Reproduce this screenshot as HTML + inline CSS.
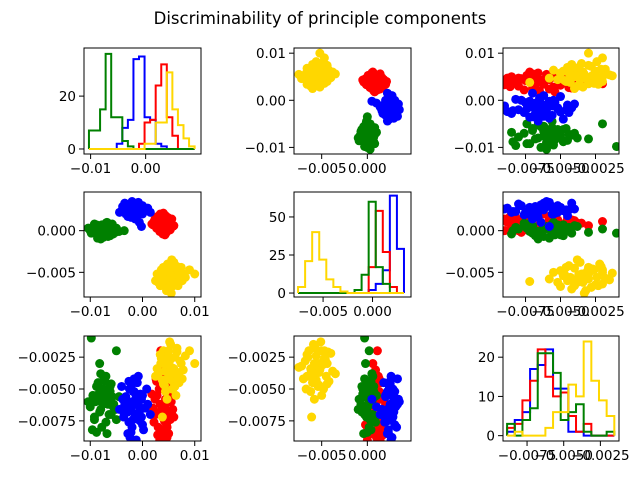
<!DOCTYPE html>
<html><head><meta charset="utf-8"><style>
html,body{margin:0;padding:0;background:#fff;}
svg text{font-family:"DejaVu Sans","Liberation Sans",sans-serif;}
</style></head><body>
<svg id="fig" width="640" height="480" xmlns="http://www.w3.org/2000/svg">
<rect width="640" height="480" fill="#fff"/>
<text x="320" y="24" font-size="16.5" text-anchor="middle">Discriminability of principle components</text>
</svg>
<script>
// Scatter points, units of 1e-4: [component1, component2, component3]
const UNIT = 1e-4;
const yellowPts = [[55,-55,-33],[40,-50,-20],[70,-60,-45],[50,-45,-40],[62,-65,-25],[35,-58,-30],[78,-52,-35],[45,-68,-28],[58,-48,-50],[48,-40,-22],[66,-57,-18],[30,-62,-38],[52,-70,-42],[74,-44,-30],[42,-53,-47],[60,-38,-36],[36,-47,-26],[68,-66,-40],[54,-59,-15],[44,-62,-52],[82,-56,-24],[28,-52,-34],[58,-42,-44],[50,-64,-20],[64,-50,-55],[38,-56,-43],[72,-48,-28],[46,-72,-32],[56,-35,-38],[62,-54,-48],[34,-66,-23],[100,-52,-30],[52,-51,-13],[47,-58,-58],[60,-62,-34],[40,-44,-46],[76,-60,-42],[53,-46,-27],[43,-54,-36],[66,-43,-21],[25,-60,-40],[57,-67,-50],[49,-49,-31],[70,-53,-37],[38,-61,-72],[90,-47,-20],[55,-75,-33]];
const redPts = [[38,8,-62],[30,12,-80],[45,4,-50],[25,6,-70],[50,10,-85],[35,15,-45],[42,2,-75],[55,8,-60],[28,10,-55],[48,16,-68],[33,0,-90],[40,12,-40],[20,7,-65],[46,-2,-78],[52,13,-52],[36,4,-85],[44,18,-72],[31,9,-35],[58,5,-66],[24,14,-58],[39,-4,-48],[47,10,-88],[34,20,-62],[53,1,-74],[27,3,-44],[41,16,-82],[37,6,-30],[49,7,-56],[22,11,-76],[43,-5,-64],[56,14,-70],[32,2,-50],[45,9,-38],[29,17,-86],[51,3,-60],[35,11,-20],[60,6,-72],[18,8,-54],[40,21,-66],[47,0,-80],[26,13,-42],[44,5,-58],[36,14,-90],[54,10,-46],[33,-1,-68]];
const bluePts = [[-15,25,-62],[-25,28,-50],[-5,22,-75],[-30,30,-60],[0,20,-55],[-20,32,-80],[-10,18,-45],[-35,26,-70],[5,24,-65],[-18,30,-52],[-28,22,-85],[-8,34,-58],[-40,24,-48],[-2,28,-72],[-22,16,-66],[-12,26,-90],[-32,20,-56],[10,27,-62],[-16,33,-42],[-26,19,-76],[-6,29,-68],[-38,29,-58],[2,23,-82],[-20,25,-46],[-14,14,-70],[-30,31,-64],[-4,21,-54],[-24,27,-88],[-10,31,-60],[-44,22,-66],[8,25,-50],[-18,20,-74],[-34,33,-62],[-8,26,-40],[-22,23,-84],[-12,29,-56],[-28,17,-68],[0,30,-78],[-16,22,-52],[-36,27,-72],[-6,10,-64],[-20,35,-60],[15,22,-70],[-26,25,-44],[-2,5,-58]];
const greenPts = [[-72,0,-57],[-85,3,-45],[-60,-3,-70],[-90,5,-60],[-65,-5,-50],[-78,2,-80],[-55,1,-62],[-95,-2,-55],[-70,6,-40],[-82,-6,-68],[-62,4,-52],[-100,0,-64],[-75,-8,-58],[-50,3,-74],[-88,7,-48],[-68,-4,-85],[-58,8,-56],[-92,-1,-72],[-80,5,-38],[-66,-7,-62],[-76,1,-50],[-104,3,-60],[-52,-2,-66],[-84,-5,-54],[-70,9,-76],[-60,0,-46],[-96,4,-82],[-74,-3,-42],[-64,6,-70],[-86,-9,-58],[-56,-4,-64],[-78,7,-52],[-98,-3,-10],[-50,2,-20],[-88,0,-84],[-66,3,-60],[-80,-10,-66],[-72,4,-44],[-45,-1,-56],[-92,8,-74],[-62,-6,-48],[-76,5,-62],[-35,0,-68],[-82,-2,-30],[-68,10,-55]];

// Histogram bin ranges and counts
const hist1Range = [-0.0103, 0.0089];
const hist1Blue = [0,0,0,0,0,2,8,11,34,35,12,11,2,1,0,0,0,0,0];
const hist1Red = [0,0,0,0,0,0,0,0,0,2,10,11,24,32,12,5,0,0,0];
const hist1Green = [7,7,15,36,12,12,3,1,0,0,0,0,0,0,0,0,0,0,0];
const hist1Yellow = [0,0,0,0,0,0,0,0,0,0,2,2,10,10,29,15,9,4,1];
const hist2Range = [-0.00753, 0.00318];
const hist2Blue = [0,0,0,0,0,0,0,0,0,0,2,6,15,64,29];
const hist2Red = [0,0,0,0,0,0,0,0,0,0,17,54,27,4,0];
const hist2Green = [0,0,0,0,0,0,0,0,2,12,60,17,6,0,0];
const hist2Yellow = [4,21,40,22,9,4,1,0,0,0,0,0,0,0,0];
const hist3Range = [-0.00886, -0.00155];
const hist3Blue = [1,4,6,17,18,22,12,12,1,1,0,0,0,0];
const hist3Red = [2,3,9,14,22,15,10,11,5,1,3,0,0,0];
const hist3Green = [3,0,4,7,21,21,16,4,6,8,1,0,0,1];
const hist3Yellow = [0,1,0,0,0,2,6,6,13,10,24,14,9,5];

const COLORS = {blue:'#0000ff', red:'#ff0000', green:'#008000', yellow:'#ffd700'};
const NS = 'http://www.w3.org/2000/svg';
const svg = document.getElementById('fig');
function mk(tag, attrs, parent){const e=document.createElementNS(NS,tag);for(const k in attrs)e.setAttribute(k,attrs[k]);(parent||svg).appendChild(e);return e;}

const panels = [
 {id:'r0c0',type:'hist',v:0,box:[84,48,201,154],x:[-0.0112,0.01006],y:[-1.9,38.2],xt:[-0.01,0],xl:['−0.01','0.00'],yt:[0,20],yl:['0','20']},
 {id:'r0c1',type:'sc',vx:1,vy:0,box:[294,48,411,154],x:[-0.00803,0.00478],y:[-0.0114,0.0111],xt:[-0.005,0],xl:['−0.005','0.000'],yt:[-0.01,0,0.01],yl:['−0.01','0.00','0.01']},
 {id:'r0c2',type:'sc',vx:2,vy:0,box:[503,48,619,154],x:[-0.00911,-0.00082],y:[-0.0114,0.0111],xt:[-0.0075,-0.005,-0.0025],xl:['−0.0075','−0.0050','−0.0025'],yt:[-0.01,0,0.01],yl:['−0.01','0.00','0.01']},
 {id:'r1c0',type:'sc',vx:0,vy:1,box:[84,192,201,297],x:[-0.0112,0.0112],y:[-0.00796,0.00464],xt:[-0.01,0,0.01],xl:['−0.01','0.00','0.01'],yt:[-0.005,0],yl:['−0.005','0.000']},
 {id:'r1c1',type:'hist',v:1,box:[294,192,411,297],x:[-0.00794,0.00389],y:[-2.6,66.4],xt:[-0.005,0],xl:['−0.005','0.000'],yt:[0,25,50],yl:['0','25','50']},
 {id:'r1c2',type:'sc',vx:2,vy:1,box:[503,192,619,297],x:[-0.00911,-0.00082],y:[-0.00796,0.00464],xt:[-0.0075,-0.005,-0.0025],xl:['−0.0075','−0.0050','−0.0025'],yt:[-0.005,0],yl:['−0.005','0.000']},
 {id:'r2c0',type:'sc',vx:0,vy:2,box:[84,336,201,441],x:[-0.0112,0.0112],y:[-0.00908,-0.00084],xt:[-0.01,0,0.01],xl:['−0.01','0.00','0.01'],yt:[-0.0075,-0.005,-0.0025],yl:['−0.0075','−0.0050','−0.0025']},
 {id:'r2c1',type:'sc',vx:1,vy:2,box:[294,336,411,441],x:[-0.00803,0.00478],y:[-0.00908,-0.00084],xt:[-0.005,0],xl:['−0.005','0.000'],yt:[-0.0075,-0.005,-0.0025],yl:['−0.0075','−0.0050','−0.0025']},
 {id:'r2c2',type:'hist',v:2,box:[503,336,619,441],x:[-0.00914,-0.00123],y:[-1.36,25.4],xt:[-0.0075,-0.005,-0.0025],xl:['−0.0075','−0.0050','−0.0025'],yt:[0,10,20],yl:['0','10','20']}
];
const hists = [
 {range:hist1Range, series:[['blue',hist1Blue],['red',hist1Red],['green',hist1Green],['yellow',hist1Yellow]]},
 {range:hist2Range, series:[['blue',hist2Blue],['red',hist2Red],['green',hist2Green],['yellow',hist2Yellow]]},
 {range:hist3Range, series:[['blue',hist3Blue],['red',hist3Red],['green',hist3Green],['yellow',hist3Yellow]]}
];
const scatterSeries = [['red',redPts],['green',greenPts],['blue',bluePts],['yellow',yellowPts]];

panels.forEach(p=>{
  const [x0,y0,x1,y1]=p.box;
  const sx=v=>x0+(v-p.x[0])/(p.x[1]-p.x[0])*(x1-x0);
  const sy=v=>y1-(v-p.y[0])/(p.y[1]-p.y[0])*(y1-y0);
  const g=mk('g',{});
  
  
  const cp=mk('clipPath',{id:'clip-'+p.id},g);
  mk('rect',{x:x0,y:y0,width:x1-x0,height:y1-y0},cp);
  const plot=mk('g',{'clip-path':'url(#clip-'+p.id+')'},g);
  if(p.type==='hist'){
    const h=hists[p.v];
    h.series.forEach(([c,counts])=>{
      const n=counts.length, w=(h.range[1]-h.range[0])/n;
      let d='M'+sx(h.range[0])+','+sy(0);
      counts.forEach((cnt,i)=>{
        d+=' L'+sx(h.range[0]+i*w)+','+sy(cnt)+' L'+sx(h.range[0]+(i+1)*w)+','+sy(cnt);
      });
      d+=' L'+sx(h.range[1])+','+sy(0);
      const path=mk('path',{d:d,fill:'none',stroke:COLORS[c],'stroke-width':2,'stroke-linejoin':'miter'},plot);
      
      
    });
  } else {
    scatterSeries.forEach(([c,pts])=>{
      const sg=mk('g',{fill:COLORS[c]},plot);
      
      
      pts.forEach(pt=>{
        const dot=mk('circle',{cx:sx(pt[p.vx]*UNIT),cy:sy(pt[p.vy]*UNIT),r:4.5},sg);
        
        
      });
    });
  }
  const frame=mk('rect',{x:x0,y:y0,width:x1-x0,height:y1-y0,fill:'none',stroke:'#000','stroke-width':1},g);
  
  
  p.xt.forEach((t,i)=>{
    const X=sx(t);
    mk('line',{x1:X,y1:y1,x2:X,y2:y1+5,stroke:'#000','stroke-width':1},g);
    const tx=mk('text',{x:X,y:y1+19,'font-size':13.5,'text-anchor':'middle'},g);
    tx.textContent=p.xl[i];
    
    
  });
  p.yt.forEach((t,i)=>{
    const Y=sy(t);
    mk('line',{x1:x0-5,y1:Y,x2:x0,y2:Y,stroke:'#000','stroke-width':1},g);
    const ty=mk('text',{x:x0-8,y:Y+5,'font-size':13.5,'text-anchor':'end'},g);
    ty.textContent=p.yl[i];
    
    
  });
});
</script>
</body></html>
